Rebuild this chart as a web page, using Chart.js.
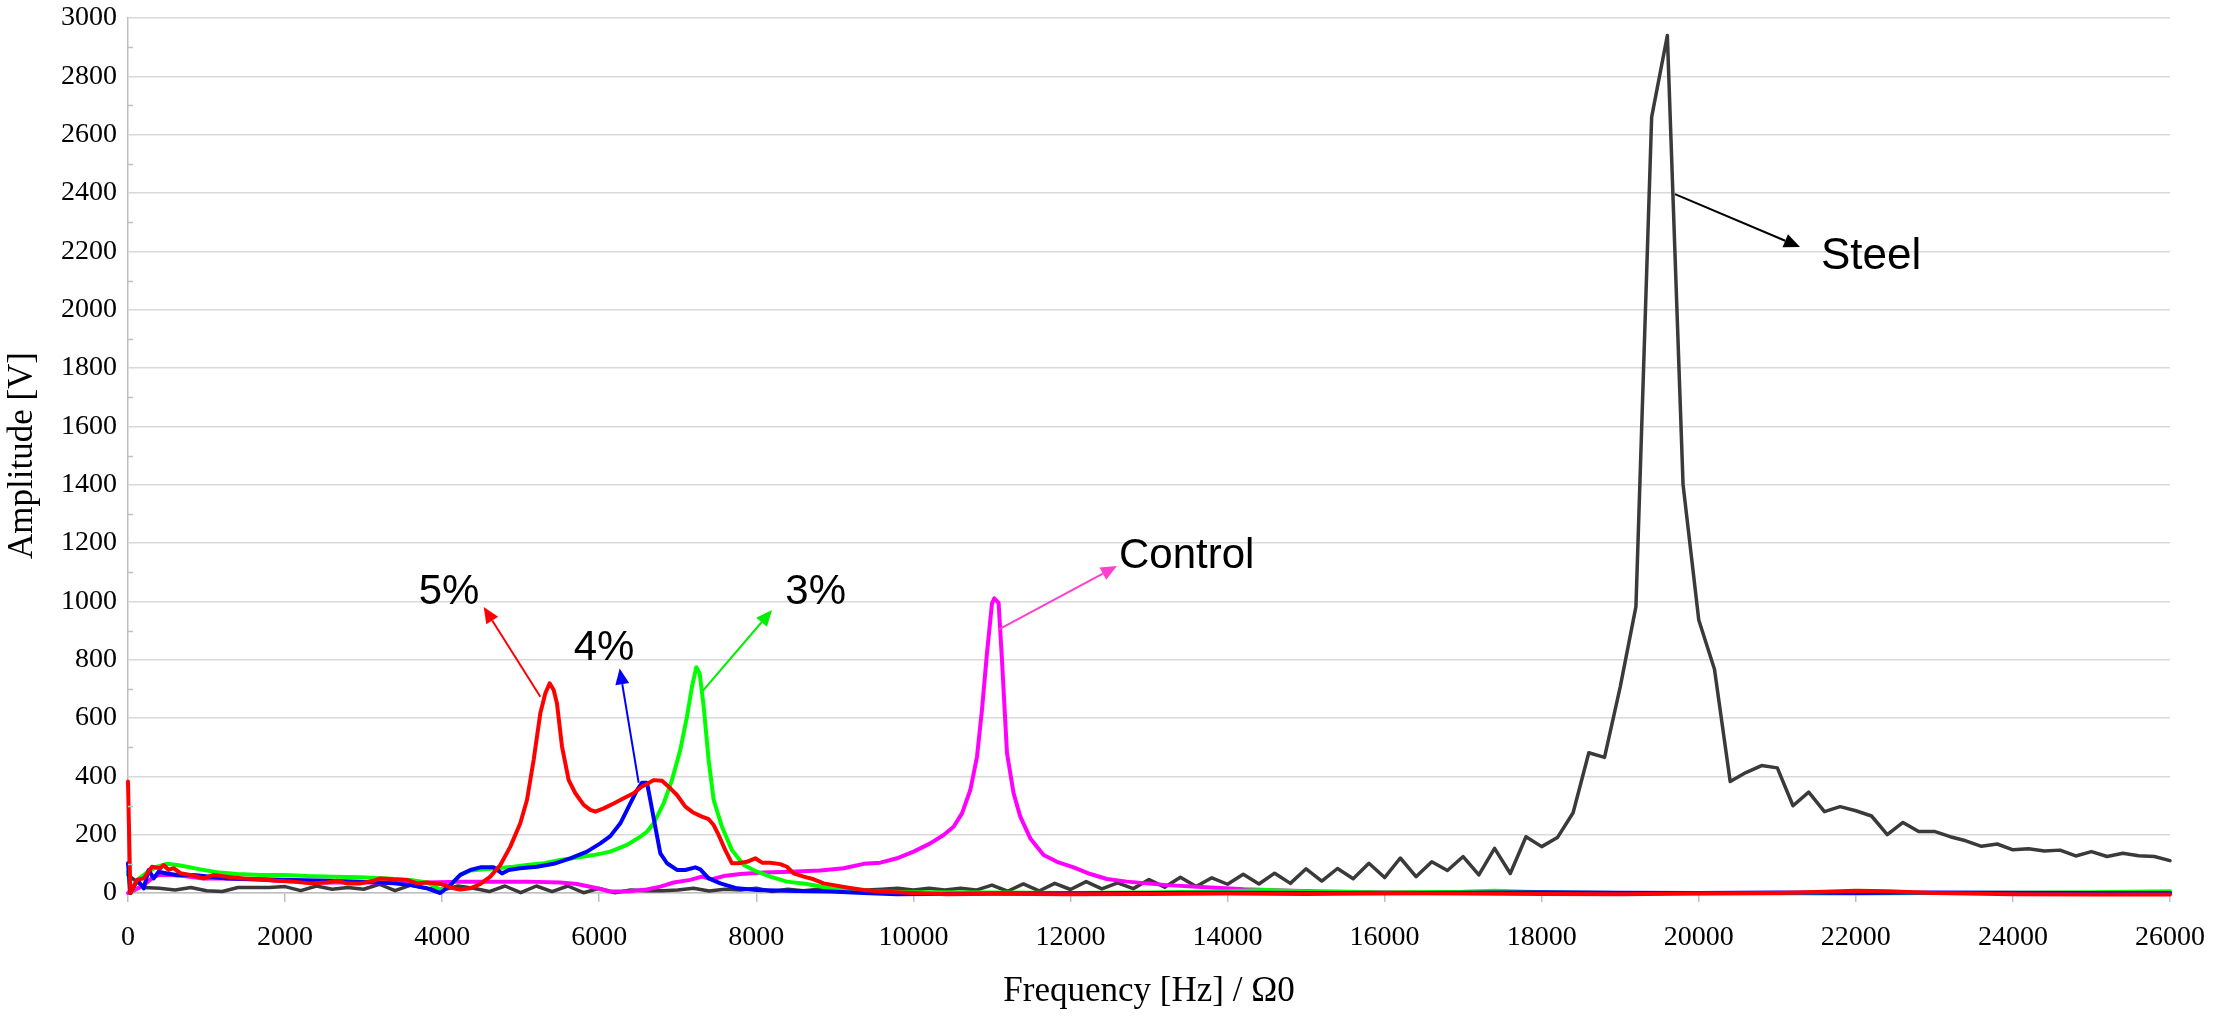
<!DOCTYPE html>
<html>
<head>
<meta charset="utf-8">
<title>Amplitude spectrum</title>
<script src="https://cdn.jsdelivr.net/npm/chart.js@4.4.1/dist/chart.umd.min.js"></script>
<style>
  html, body { margin: 0; padding: 0; background: #fff; }
  #wrap { width: 2213px; height: 1016px; }
</style>
</head>
<body>
<div id="wrap"><canvas id="spectrumChart" width="2213" height="1016"></canvas></div>
<script>
// 5% sample
const fivePctHz = [0,30,115,200,306,412,454,518,581,666,
    794,963,1091,1260,1473,1685,1897,2109,2322,2534,
    2661,2788,2958,3128,3213,3382,3552,3680,3807,3977,
    4146,4231,4359,4486,4613,4741,4868,4995,5080,5165,
    5250,5314,5369,5420,5462,5526,5611,5696,5802,5887,
    5950,6056,6184,6311,6438,6544,6608,6693,6799,6905,
    6990,7096,7202,7308,7393,7457,7520,7605,7690,7775,
    7881,7987,8072,8178,8306,8390,8475,8603,8730,8857,
    8985,9154,9367,9579,10003,10428,11000,12000,13000,14000,
    15000,16000,17000,18000,19000,20000,21000,21600,22000,22400,
    23000,24000,25000,26000];
const fivePctAmp = [382,0,45,50,90,85,96,79,85,68,
    62,50,62,56,50,47,42,39,33,36,
    42,33,33,42,50,47,45,33,36,31,
    16,12,16,31,56,96,159,239,319,456,
    616,685,719,696,650,502,387,342,302,285,
    279,290,307,325,342,365,374,387,385,359,
    336,296,275,262,253,233,199,147,102,102,
    107,119,104,104,99,90,67,56,47,33,
    27,19,10,5,0,-4,-3,-4,-3,-2,
    -3,-1,-2,-3,-4,-2,0,4,8,6,
    0,-4,-5,-5];

// 4% sample
const fourPctHz = [0,30,120,200,263,327,390,496,624,836,
    1048,1260,1685,2109,2534,2958,3382,3595,3807,3977,
    4104,4231,4359,4486,4656,4762,4847,4995,5207,5420,
    5632,5844,6014,6141,6269,6396,6481,6544,6608,6650,
    6714,6778,6863,6990,7096,7223,7287,7393,7542,7754,
    8008,8518,8942,9367,9791,11000,12000,13000,14000,15000,
    16000,17000,18000,19000,20000,21000,22000,23000,24000,25000,26000];
const fourPctAmp = [102,0,45,16,79,50,73,67,62,62,
    56,50,47,45,42,39,33,27,16,0,
    27,62,79,88,88,67,79,85,90,100,
    119,142,170,195,239,307,353,378,378,319,
    227,136,102,79,79,88,81,50,33,16,
    10,7,5,0,-4,-2,-1,0,1,0,
    -1,1,3,1,0,2,0,2,1,0,0];

// 3% sample
const threePctHz = [0,40,120,255,370,496,624,751,921,1133,
    1388,1685,1982,2279,2619,2958,3298,3595,3807,3977,
    4104,4231,4359,4529,4698,4910,5080,5292,5504,5717,
    5929,6141,6354,6523,6608,6693,6820,6926,7032,7117,
    7181,7236,7279,7330,7393,7457,7563,7690,7839,8008,
    8178,8390,8645,8942,9240,9579,10003,11000,12000,13000,
    14000,14500,15000,16000,17000,17400,18000,19000,20000,21000,
    22000,23000,24000,25000,26000];
const threePctAmp = [73,0,45,73,90,100,96,90,81,71,
    65,62,62,58,56,54,50,45,36,12,
    27,62,77,81,85,90,96,102,113,122,
    130,142,165,193,210,239,307,387,490,605,
    707,774,753,639,456,319,227,147,96,73,
    56,39,31,16,10,5,3,2,0,2,
    6,10,5,2,4,8,3,0,0,-1,
    -2,0,1,3,6];

// control sample
const controlHz = [0,85,200,327,412,539,709,963,1260,1685,
    2109,2534,2958,3382,3807,4231,4656,5080,5504,5717,
    5929,6141,6354,6608,6778,6948,7160,7308,7436,7584,
    7796,8093,8433,8815,9112,9367,9579,9791,10003,10215,
    10385,10512,10619,10725,10810,10873,10937,11001,11030,11085,
    11128,11192,11276,11361,11489,11658,11828,12040,12253,12465,
    12719,12974,13228,13725,14210,14705,15200,16000,17000,18000,
    20000,22000,24000,26000];
const controlAmp = [0,10,27,56,62,62,58,50,50,45,
    39,36,36,36,36,39,39,39,36,31,
    19,5,5,12,22,36,45,56,47,58,
    65,70,73,77,85,100,104,119,142,170,
    199,227,273,353,467,627,822,993,1010,995,
    799,479,342,262,187,130,107,88,65,48,
    39,33,27,20,13,9,5,3,2,0,
    -1,0,0,0];

// steel, one reading every 200 Hz from 0 to 26000
const steelStepHz = 200;
const steelAmp = [62,19,16,10,19,8,5,19,19,19,
    22,8,24,13,19,13,30,8,27,16,
    10,24,16,5,24,1,24,5,24,1,
    16,1,10,8,8,10,16,7,13,10,
    16,5,13,8,13,10,10,10,13,16,
    10,16,10,16,10,27,6,31,7,33,
    12,39,14,35,15,46,20,54,22,52,
    30,64,31,68,33,83,41,84,49,102,
    53,120,56,107,77,125,62,153,67,193,
    159,190,275,481,465,707,982,2660,2940,1400,
    936,767,382,413,437,429,299,346,279,296,
    282,264,200,242,211,211,193,179,160,168,
    148,152,144,147,127,142,125,136,128,125,
    111];
const steelHz = steelAmp.map((_, i) => i * steelStepHz);

// callout labels: arrow from -> to, text anchored at (Hz, V)
const callouts = [
    { text: 'Steel',   color: '#000000', from: [19697, 2396], to: [21289, 2215], at: [21556, 2139], size: 44 },
    { text: 'Control', color: '#ff3fd0', from: [11077, 902],  to: [12592, 1121], at: [12618, 1114], size: 42 },
    { text: '5%',      color: '#ff0000', from: [5250, 673],   to: [4529, 981],   at: [3701, 991],   size: 42 },
    { text: '4%',      color: '#0000ff', from: [6502, 378],   to: [6260, 770],   at: [5675, 799],   size: 42 },
    { text: '3%',      color: '#00ee00', from: [7321, 694],   to: [8200, 970],   at: [8369, 991],   size: 42 }
];

const SERIF = '"Liberation Serif", "Times New Roman", serif';
const SANS = '"Liberation Sans", Arial, sans-serif';

const zip = (xs, ys) => xs.map((x, i) => ({ x: x, y: ys[i] }));

const lineSet = (label, hz, amp, color, width) => ({
    label: label,
    data: zip(hz, amp),
    borderColor: color,
    backgroundColor: color,
    borderWidth: width,
    pointRadius: 0,
    tension: 0,
    borderJoinStyle: 'round',
    borderCapStyle: 'round',
    clip: 6
});

function drawArrow(ctx, x1, y1, x2, y2, color) {
    const ang = Math.atan2(y2 - y1, x2 - x1);
    const head = 16, half = 7;
    const bx = x2 - head * Math.cos(ang);
    const by = y2 - head * Math.sin(ang);
    ctx.strokeStyle = color;
    ctx.lineWidth = 2;
    ctx.beginPath();
    ctx.moveTo(x1, y1);
    ctx.lineTo(bx, by);
    ctx.stroke();
    ctx.fillStyle = color;
    ctx.beginPath();
    ctx.moveTo(x2, y2);
    ctx.lineTo(bx + half * Math.sin(ang), by - half * Math.cos(ang));
    ctx.lineTo(bx - half * Math.sin(ang), by + half * Math.cos(ang));
    ctx.closePath();
    ctx.fill();
}

// short minor ticks on the amplitude axis, inside the plot
const minorTicks = {
    id: 'minorTicks',
    afterDraw(chart) {
        const ctx = chart.ctx;
        const ys = chart.scales.y;
        const left = chart.chartArea.left;
        ctx.save();
        ctx.strokeStyle = '#bfbfbf';
        ctx.lineWidth = 1.5;
        for (let v = 100; v < 3000; v += 200) {
            const py = Math.round(ys.getPixelForValue(v)) + 0.5;
            ctx.beginPath();
            ctx.moveTo(left, py);
            ctx.lineTo(left + 5, py);
            ctx.stroke();
        }
        ctx.restore();
    }
};

const calloutLabels = {
    id: 'calloutLabels',
    afterDatasetsDraw(chart) {
        const ctx = chart.ctx;
        const xs = chart.scales.x, ys = chart.scales.y;
        ctx.save();
        callouts.forEach(c => {
            drawArrow(ctx,
                xs.getPixelForValue(c.from[0]), ys.getPixelForValue(c.from[1]),
                xs.getPixelForValue(c.to[0]), ys.getPixelForValue(c.to[1]),
                c.color);
            ctx.fillStyle = '#000';
            ctx.font = c.size + 'px ' + SANS;
            ctx.textAlign = 'left';
            ctx.textBaseline = 'alphabetic';
            ctx.fillText(c.text, xs.getPixelForValue(c.at[0]), ys.getPixelForValue(c.at[1]));
        });
        ctx.restore();
    }
};

const ctx = document.getElementById('spectrumChart').getContext('2d');
new Chart(ctx, {
    type: 'line',
    data: {
        datasets: [
            lineSet('5%', fivePctHz, fivePctAmp, '#ff0000', 4),
            lineSet('4%', fourPctHz, fourPctAmp, '#0000ff', 4),
            lineSet('3%', threePctHz, threePctAmp, '#00ff00', 4),
            lineSet('Control', controlHz, controlAmp, '#ff00ff', 4),
            lineSet('Steel', steelHz, steelAmp, '#3a3a3a', 3.5)
        ]
    },
    options: {
        responsive: false,
        devicePixelRatio: 1,
        animation: false,
        layout: { padding: { left: 0, right: 43, top: 18, bottom: 0 } },
        plugins: {
            legend: { display: false },
            tooltip: { enabled: false }
        },
        scales: {
            x: {
                type: 'linear',
                min: 0,
                max: 26000,
                afterFit: s => {
                    s.height = 123;
                    s.paddingLeft = 0;
                    s.paddingRight = 0;
                },
                ticks: {
                    stepSize: 2000,
                    autoSkip: false,
                    maxRotation: 0,
                    padding: 19,
                    color: '#000',
                    font: { family: SERIF, size: 28 },
                    callback: v => String(v)
                },
                grid: {
                    drawOnChartArea: false,
                    drawTicks: true,
                    tickLength: 9,
                    color: '#bfbfbf',
                    lineWidth: 1.5
                },
                border: { color: '#bfbfbf', width: 1.5 },
                title: {
                    display: true,
                    text: 'Frequency [Hz] / Ω0',
                    color: '#000',
                    font: { family: SERIF, size: 35 },
                    padding: { top: 0, bottom: 3 }
                }
            },
            y: {
                min: 0,
                max: 3000,
                afterFit: s => {
                    s.width = 128;
                    s.paddingTop = 0;
                    s.paddingBottom = 0;
                },
                ticks: {
                    stepSize: 200,
                    padding: 11,
                    color: '#000',
                    font: { family: SERIF, size: 28 },
                    callback: v => String(v)
                },
                grid: {
                    drawTicks: false,
                    color: '#d9d9d9',
                    lineWidth: 1.5
                },
                border: { color: '#bfbfbf', width: 1.5 },
                title: {
                    display: true,
                    text: 'Amplitude [V]',
                    color: '#000',
                    font: { family: SERIF, size: 35 },
                    padding: { top: 2, bottom: 0 }
                }
            }
        }
    },
    plugins: [minorTicks, calloutLabels]
});
</script>
</body>
</html>
